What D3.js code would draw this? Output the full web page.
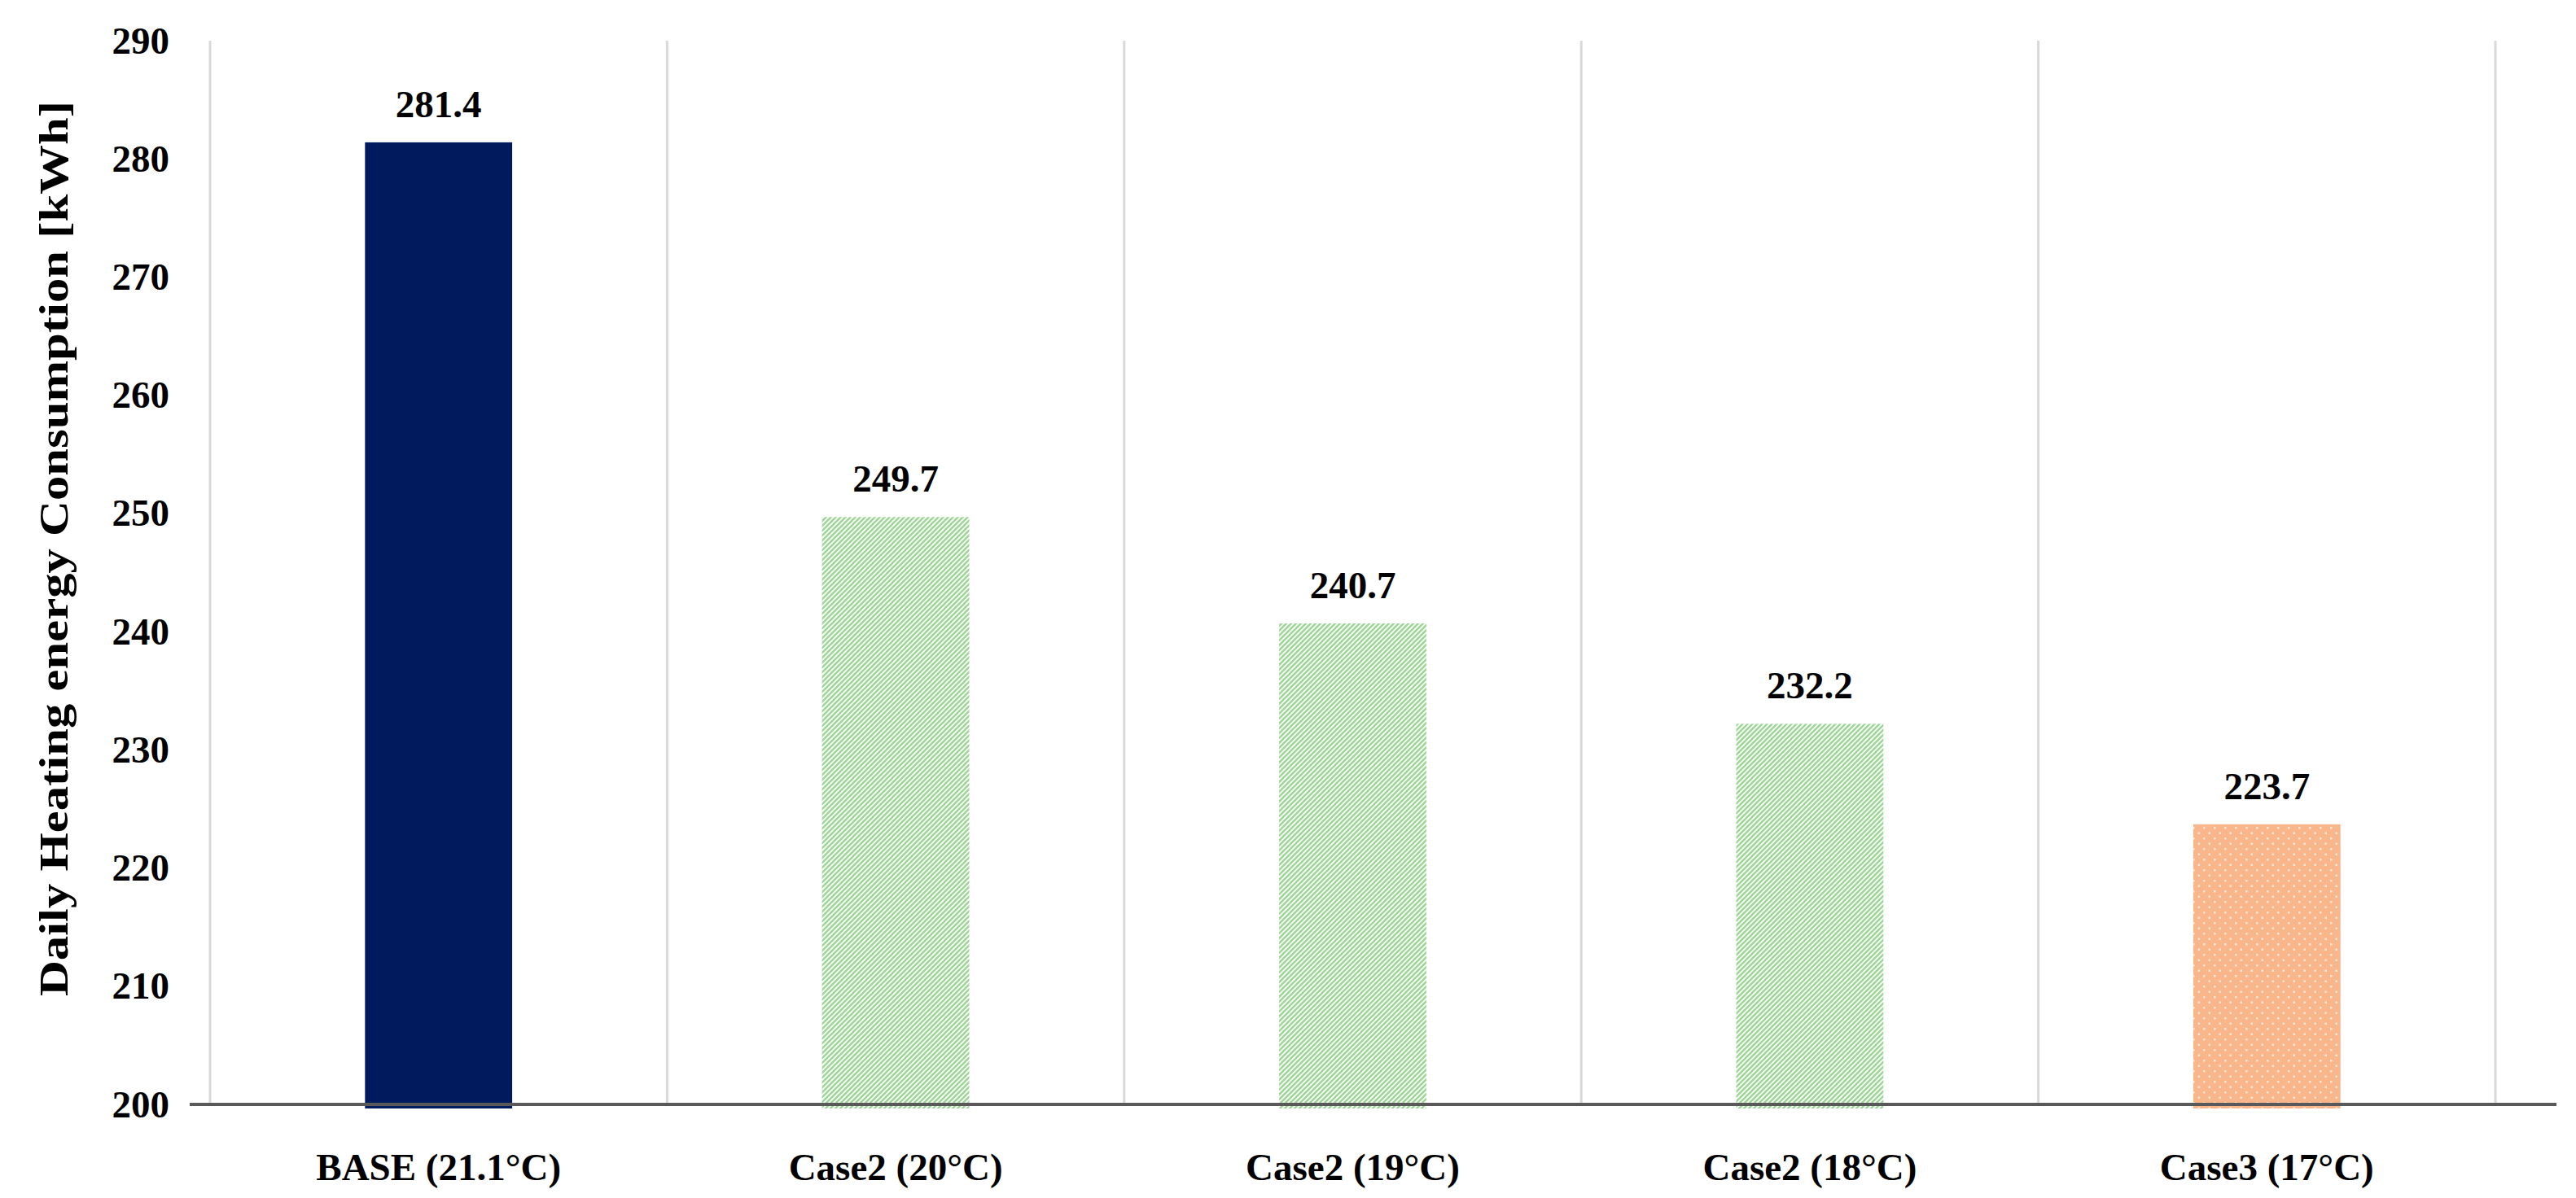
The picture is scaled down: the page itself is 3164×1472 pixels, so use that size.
<!DOCTYPE html>
<html>
<head>
<meta charset="utf-8">
<script src="https://cdn.jsdelivr.net/npm/d3@7"></script>
<style>
  html, body { margin: 0; padding: 0; background: #ffffff; }
  svg { display: block; }
  text { font-family: "Liberation Serif", "Times New Roman", serif; font-weight: bold; fill: #000; }
</style>
</head>
<body>
<svg id="chart" width="3164" height="1472"></svg>
<script>
// ---- data ----
const categories = ["BASE (21.1°C)", "Case2 (20°C)", "Case2 (19°C)", "Case2 (18°C)", "Case3 (17°C)"];
const values = [281.4, 249.7, 240.7, 232.2, 223.7];
const fills = ["navy", "hatch", "hatch", "hatch", "dots"];
const yTicks = [200, 210, 220, 230, 240, 250, 260, 270, 280, 290];
const yTitle = "Daily Heating energy Consumption [kWh]";

// ---- layout ----
const W = 3164, H = 1472;
const plot = { left: 258, right: 3065, top: 50, bottom: 1357 };
const fontSize = 47;

const svg = d3.select("#chart");
svg.append("rect").attr("width", W).attr("height", H).attr("fill", "#fff");

const defs = svg.append("defs");
// green upward diagonal hatch
const hp = defs.append("pattern").attr("id", "hatch").attr("patternUnits", "userSpaceOnUse")
  .attr("width", 6).attr("height", 6);
hp.append("rect").attr("width", 6).attr("height", 6).attr("fill", "#ffffff");
hp.append("path").attr("d", "M-1,1 l2,-2 M0,6 l6,-6 M5,7 l2,-2")
  .attr("stroke", "#9ed697").attr("stroke-width", 2.6);
// orange dotted
const dp = defs.append("pattern").attr("id", "dots").attr("patternUnits", "userSpaceOnUse")
  .attr("width", 13).attr("height", 13);
dp.append("rect").attr("width", 13).attr("height", 13).attr("fill", "#f9b68b");
dp.append("rect").attr("x", 2).attr("y", 2).attr("width", 2.5).attr("height", 2.5).attr("fill", "#fde6d6");
dp.append("rect").attr("x", 8.5).attr("y", 8.5).attr("width", 2.5).attr("height", 2.5).attr("fill", "#fde6d6");

const fillOf = f => f === "navy" ? "#001a5e" : (f === "hatch" ? "url(#hatch)" : "url(#dots)");

const x = d3.scaleBand().domain(categories).range([plot.left, plot.right]).paddingInner(0).paddingOuter(0);
const y = d3.scaleLinear().domain([200, 290]).range([plot.bottom, plot.top]);
const barW = x.bandwidth() * 0.322;

// vertical gridlines at band boundaries
const bounds = categories.map(c => x(c)).concat([x.range()[1]]);
svg.append("g").selectAll("line").data(bounds).join("line")
  .attr("x1", d => d).attr("x2", d => d)
  .attr("y1", y(290)).attr("y2", y(200))
  .attr("stroke", "#d9d9d9").attr("stroke-width", 3);

// bars
svg.append("g").selectAll("rect").data(values).join("rect")
  .attr("x", (d, i) => x(categories[i]) + (x.bandwidth() - barW) / 2)
  .attr("y", d => y(d))
  .attr("width", barW)
  .attr("height", d => y(200) - y(d) + 5)
  .attr("fill", (d, i) => fillOf(fills[i]));

// x axis baseline
svg.append("line")
  .attr("x1", x.range()[0] - 25).attr("x2", x.range()[1] + 75)
  .attr("y1", y(200)).attr("y2", y(200))
  .attr("stroke", "#595959").attr("stroke-width", 4);

// value labels
svg.append("g").selectAll("text").data(values).join("text")
  .attr("x", (d, i) => x(categories[i]) + x.bandwidth() / 2)
  .attr("y", d => y(d) - 31)
  .attr("text-anchor", "middle")
  .style("font-size", fontSize + "px")
  .text(d => d.toFixed(1));

// y axis (labels only)
const yAxis = d3.axisLeft(y).tickValues(yTicks).tickSize(0).tickPadding(50).tickFormat(d3.format("d"));
const gy = svg.append("g").attr("transform", `translate(${plot.left},0)`).call(yAxis);
gy.select(".domain").remove();
gy.selectAll("text").attr("fill", "#000")
  .style("font-family", '"Liberation Serif", serif').style("font-weight", "bold").style("font-size", fontSize + "px");

// x axis (labels only)
const xAxis = d3.axisBottom(x).tickSize(0).tickPadding(60);
const gx = svg.append("g").attr("transform", `translate(0,${plot.bottom})`).call(xAxis);
gx.select(".domain").remove();
gx.selectAll("text").attr("fill", "#000")
  .style("font-family", '"Liberation Serif", serif').style("font-weight", "bold").style("font-size", fontSize + "px");

// y title
svg.append("text")
  .attr("transform", `translate(66,674) rotate(-90)`)
  .attr("text-anchor", "middle").attr("dominant-baseline", "central")
  .attr("textLength", 1100).attr("lengthAdjust", "spacingAndGlyphs")
  .style("font-size", "51px")
  .text(yTitle);
</script>
</body>
</html>
